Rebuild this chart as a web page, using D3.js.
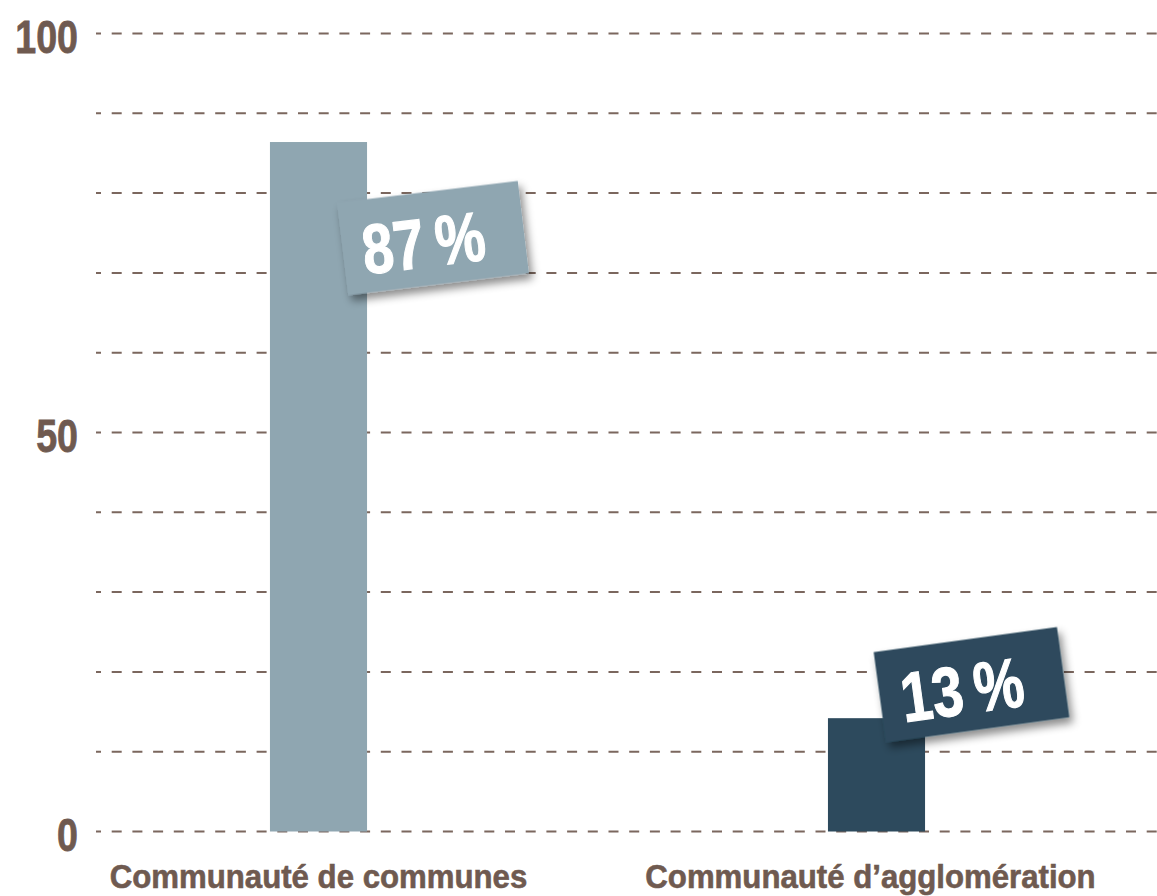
<!DOCTYPE html>
<html>
<head>
<meta charset="utf-8">
<script src="https://cdn.jsdelivr.net/npm/d3@7"></script>
<style>
  html, body { margin: 0; padding: 0; background: #fff; }
  svg { display: block; font-family: "Liberation Sans", Arial, sans-serif; font-weight: bold; }
</style>
</head>
<body>
<div id="chart"></div>
<script>
// data
const categories = ["Communauté de communes", "Communauté d’agglomération"];
const values = [86.4, 14.2];             // bar heights as drawn
const valueLabels = ["87\u2009%", "13\u2009%"];
const gridTicks = [0, 10, 20, 30, 40, 50, 60, 70, 80, 90, 100];
const labelTicks = [0, 50, 100];
const barColors = ["#8fa6b1", "#2d4a5d"];

const width = 1157, height = 896;
const brown = "#6f5a50";

const svg = d3.select("#chart")
    .append("svg")
    .attr("width", width)
    .attr("height", height);

// drop shadow for the value tags
const defs = svg.append("defs");
defs.append("filter")
    .attr("id", "tagShadow")
    .attr("x", "-20%").attr("y", "-20%")
    .attr("width", "150%").attr("height", "160%")
    .append("feDropShadow")
    .attr("dx", 3).attr("dy", 6)
    .attr("stdDeviation", 4)
    .attr("flood-color", "#000")
    .attr("flood-opacity", 0.45);

const y = d3.scaleLinear()
    .domain([0, 100])
    .range([831.5, 33.5]);

const x = d3.scalePoint()
    .domain(categories)
    .range([39.5, 1155.5])
    .padding(0.5);

const barWidth = x.step() * 0.174;

// dashed gridlines
svg.append("g")
    .selectAll("line")
    .data(gridTicks)
    .join("line")
    .attr("x1", 96)
    .attr("x2", width)
    .attr("y1", d => y(d))
    .attr("y2", d => y(d))
    .attr("stroke", "#7b675e")
    .attr("stroke-width", 2)
    .attr("stroke-dasharray", "10 10.7")
    .attr("stroke-dashoffset", 5);

// y tick labels
svg.append("g")
    .attr("transform", "translate(78,2)")
    .call(d3.axisLeft(y).tickValues(labelTicks).tickSize(0).tickPadding(0))
    .call(g => g.select(".domain").remove())
    .call(g => g.selectAll("text")
        .attr("x", 0)
        .attr("dy", "0.36em")
        .attr("transform", "scale(0.8,1)")
        .attr("fill", brown)
        .attr("stroke", brown)
        .attr("stroke-width", 0.8)
        .attr("font-size", 47)
        .attr("font-family", "'Liberation Sans', Arial, sans-serif")
        .attr("font-weight", "bold"));

// bars
svg.append("g")
    .selectAll("rect")
    .data(values)
    .join("rect")
    .attr("x", (d, i) => x(categories[i]) - barWidth / 2)
    .attr("y", d => y(d))
    .attr("width", barWidth)
    .attr("height", d => y(0) - y(d))
    .attr("fill", (d, i) => barColors[i]);

// category labels (slightly condensed and tall like the original)
svg.append("g")
    .selectAll("text")
    .data(categories)
    .join("text")
    .attr("transform", (d, i) => `translate(${x(d) - (i ? 6 : 0)},888) scale(0.945,1)`)
    .attr("text-anchor", "middle")
    .attr("font-size", 33)
    .attr("fill", brown)
    .attr("stroke", brown)
    .attr("stroke-width", 0.6)
    .text(d => d);

// rotated value tags, placed relative to each bar top
const tagLayout = [
    {dx: 114.5, dy: 96, angle: -6.9, w: 182, h: 93},
    {dx: 95, dy: -33.5, angle: -7.8, w: 185, h: 91}
];

const tags = svg.append("g")
    .selectAll("g")
    .data(values)
    .join("g")
    .attr("transform", (d, i) => {
        const t = tagLayout[i];
        return `translate(${x(categories[i]) + t.dx},${y(d) + t.dy}) rotate(${t.angle})`;
    });

tags.append("rect")
    .attr("x", (d, i) => -tagLayout[i].w / 2)
    .attr("y", (d, i) => -tagLayout[i].h / 2)
    .attr("width", (d, i) => tagLayout[i].w)
    .attr("height", (d, i) => tagLayout[i].h)
    .attr("fill", (d, i) => barColors[i])
    .attr("filter", "url(#tagShadow)");

tags.append("text")
    .attr("transform", "translate(-10,28) scale(0.8,1)")
    .attr("text-anchor", "middle")
    .attr("font-size", 70)
    .attr("fill", "#fff")
    .attr("stroke", "#fff")
    .attr("stroke-width", 1.2)
    .text((d, i) => valueLabels[i]);
</script>
</body>
</html>
